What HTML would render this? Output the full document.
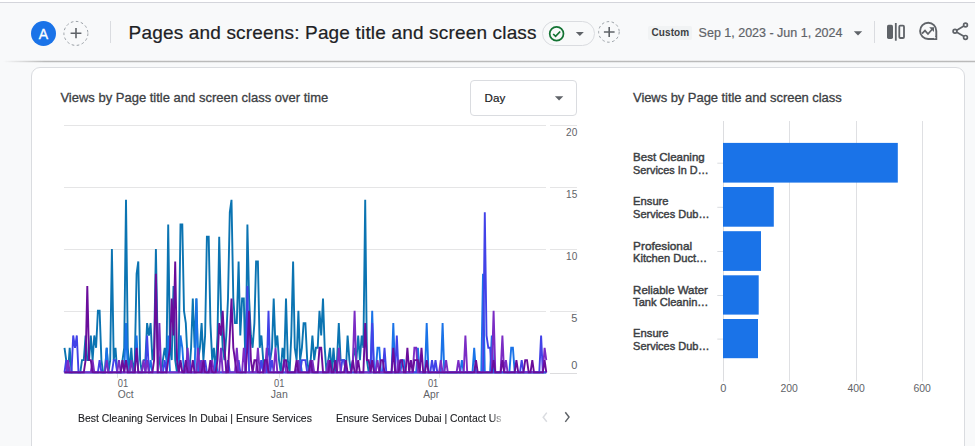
<!DOCTYPE html>
<html lang="en"><head><meta charset="utf-8"><title>Pages and screens: Page title and screen class</title>
<style>
*{box-sizing:border-box;margin:0;padding:0}
html,body{width:975px;height:446px;overflow:hidden}
body{position:relative;background:#f8f9fa;font-family:"Liberation Sans",sans-serif;color:#202124}
.topwhite{position:absolute;left:0;top:0;width:975px;height:2px;background:#fff}
.topline{position:absolute;left:0;top:2px;width:975px;height:1px;background:#d4d5db}
.hdrline{position:absolute;left:0;top:60px;width:975px;height:3px;background:linear-gradient(180deg,rgba(130,130,130,.13) 0,rgba(130,130,130,.13) 33%,rgb(186,186,186) 33%,rgb(186,186,186) 67%,rgba(130,130,130,.12) 67%,rgba(130,130,130,.12) 100%);-webkit-mask-image:linear-gradient(90deg,rgba(0,0,0,0) 3px,#000 45px)}
.hdrline2{display:none}
.avatar{position:absolute;left:31px;top:21px;width:25px;height:25px;border-radius:50%;background:#1a73e8;color:#fff;font-size:14px;line-height:26.6px;text-align:center;-webkit-text-stroke:.35px #fff}
.abs{position:absolute}
.vdiv{position:absolute;width:1px;background:#dadce0}
.title{position:absolute;left:128.6px;top:18.2px;font-size:19px;line-height:30px;letter-spacing:.17px;white-space:nowrap;color:#202124;-webkit-text-stroke:.2px #202124}
.pill{position:absolute;left:541.5px;top:21px;width:53px;height:24.6px;border:1px solid #dadce0;border-radius:12.5px;}
.badge{position:absolute;left:648.3px;top:26.3px;width:44.2px;height:13.4px;background:#f1f3f4;border-radius:2px;font-size:10px;font-weight:700;line-height:13.4px;text-align:center;color:#3c4043;letter-spacing:.1px}
.date{position:absolute;left:698.6px;top:23px;font-size:12.5px;line-height:20px;white-space:nowrap;color:#5f6368;-webkit-text-stroke:.2px #5f6368}
.card{position:absolute;left:31px;top:67px;width:934px;height:400px;background:#fff;border:1px solid #dadce0;border-radius:9px}
.ctitle{position:absolute;font-size:13px;line-height:20px;white-space:nowrap;color:#3c4043;-webkit-text-stroke:.3px #3c4043}
.daybox{position:absolute;left:470.4px;top:80.3px;width:106.6px;height:35.6px;border:1px solid #dadce0;border-radius:4px;background:#fff}
.day{position:absolute;left:484.6px;top:88px;font-size:11.6px;line-height:20px;color:#202124;-webkit-text-stroke:.2px #202124}
.legend{position:absolute;top:408px;font-size:11.6px;line-height:20px;white-space:nowrap;color:#202124;transform-origin:0 50%;-webkit-text-stroke:.12px #202124}
svg{position:absolute;left:0;top:0;overflow:visible}
svg text{font-family:"Liberation Sans",sans-serif}
.ax{font-size:11px;fill:#5f6368}
.bl{font-size:11.8px;fill:#3c4043;stroke:#3c4043;stroke-width:.45px}
</style></head>
<body>
<div class="topwhite"></div><div class="topline"></div>
<header>
<div class="avatar">A</div>
<div class="title">Pages and screens: Page title and screen class</div>
<div class="vdiv" style="left:110px;top:21px;height:22px"></div>
<div class="pill"></div>
<div class="badge">Custom</div>
<div class="date">Sep 1, 2023 - Jun 1, 2024</div>
<div class="vdiv" style="left:874px;top:21px;height:22px"></div>
</header>
<div class="hdrline"></div><div class="hdrline2"></div>
<main class="card"></main>
<div class="ctitle" style="left:60.4px;top:88.2px">Views by Page title and screen class over time</div>
<div class="ctitle" style="left:633px;top:88.2px;letter-spacing:-.06px">Views by Page title and screen class</div>
<div class="daybox"></div><div class="day">Day</div>
<div class="legend" id="lg1" style="left:78.2px;transform:scaleX(.899)">Best Cleaning Services In Dubai | Ensure Services</div>
<div class="legend" id="lg2" style="left:335.6px;transform:scaleX(.895);-webkit-mask-image:linear-gradient(90deg,#000 0,#000 93%,rgba(0,0,0,.3) 100%)">Ensure Services Dubai | Contact Us</div>
<svg width="975" height="446" viewBox="0 0 975 446">
<!-- header icons -->
<g id="plus1" fill="none">
 <circle cx="75.9" cy="33.4" r="12" stroke="#9aa0a6" stroke-width="1" stroke-dasharray="2.6 2.5"/>
 <path d="M70.6 33.2h10.8M76 27.9v10.4" stroke="#5f6368" stroke-width="1.6"/>
</g>
<g id="status">
 <circle cx="556.6" cy="33.7" r="6.9" fill="none" stroke="#137333" stroke-width="1.7"/>
 <path d="M553.2 34l2.4 2.4 4.6-4.9" fill="none" stroke="#137333" stroke-width="1.7"/>
 <path d="M575.8 31.9h8l-4 4z" fill="#5f6368"/>
</g>
<g id="plus2" fill="none">
 <circle cx="608.9" cy="31.9" r="10.3" stroke="#9aa0a6" stroke-width="1" stroke-dasharray="2.6 2.5"/>
 <path d="M603.9 32h10.7M609.2 26.9v10.2" stroke="#5f6368" stroke-width="1.6"/>
</g>
<path d="M853.8 31.2h8.4l-4.2 4.2z" fill="#5f6368"/>
<g id="compare">
 <rect x="887" y="24.8" width="6" height="14.1" rx="1.6" fill="#5f6368"/>
 <rect x="894.9" y="23" width="1.8" height="17.7" fill="#5f6368"/>
 <rect x="899.3" y="25.7" width="4.7" height="12.3" rx="1" fill="none" stroke="#5f6368" stroke-width="1.8"/>
</g>
<g id="insights" fill="none" stroke="#5f6368">
 <path d="M936.3 30.9a8.1 8.1 0 1 0-8.1 8.1h8.1z" stroke-width="1.9"/>
 <path d="M922 33.6l3-3 3 3.4 4.6-5.2" stroke-width="1.7"/>
 <path d="M929.2 27.2h4.8v4.8z" fill="#5f6368" stroke="none"/>
 <path d="M936.6 34.6v4.7h-4.7a8.4 8.4 0 0 0 4.7-4.7z" fill="#5f6368" stroke="none"/>
 <circle cx="934.8" cy="37.6" r=".85" fill="#fff" stroke="none"/>
</g>
<g id="share" fill="none" stroke="#5f6368" stroke-width="1.7">
 <circle cx="965.5" cy="25" r="1.9"/><circle cx="955" cy="31.2" r="1.9"/><circle cx="965.5" cy="37.4" r="1.9"/>
 <path d="M956.8 30.2l7-4.1M956.8 32.2l7 4.1"/>
</g>
<path d="M554.9 96.3h8.4l-4.2 4.1z" fill="#5f6368"/>
<!-- line chart -->
<g id="linechart">
<line x1="64" x2="546" y1="125.5" y2="125.5" stroke="#e5e5e6" stroke-width="1"/><line x1="550" x2="577" y1="125.5" y2="125.5" stroke="#e5e5e6" stroke-width="1"/><line x1="64" x2="546" y1="187.5" y2="187.5" stroke="#e5e5e6" stroke-width="1"/><line x1="550" x2="577" y1="187.5" y2="187.5" stroke="#e5e5e6" stroke-width="1"/><line x1="64" x2="546" y1="249.5" y2="249.5" stroke="#e5e5e6" stroke-width="1"/><line x1="550" x2="577" y1="249.5" y2="249.5" stroke="#e5e5e6" stroke-width="1"/><line x1="64" x2="546" y1="311.5" y2="311.5" stroke="#e5e5e6" stroke-width="1"/><line x1="550" x2="577" y1="311.5" y2="311.5" stroke="#e5e5e6" stroke-width="1"/><line x1="64" x2="546" y1="373.5" y2="373.5" stroke="#dcdcde" stroke-width="1"/><line x1="550" x2="577" y1="373.5" y2="373.5" stroke="#dcdcde" stroke-width="1"/>
<text x="577.3" y="136.0" text-anchor="end" class="ax" textLength="11.2" lengthAdjust="spacingAndGlyphs">20</text><text x="577.3" y="198.0" text-anchor="end" class="ax" textLength="11.2" lengthAdjust="spacingAndGlyphs">15</text><text x="577.3" y="260.0" text-anchor="end" class="ax" textLength="11.2" lengthAdjust="spacingAndGlyphs">10</text><text x="577.3" y="322.0" text-anchor="end" class="ax">5</text><text x="577.3" y="369.0" text-anchor="end" class="ax">0</text>
<line x1="117.5" x2="117.5" y1="374" y2="377.8" stroke="#e0e0e2" stroke-width="1"/><text x="117.8" y="386.9" text-anchor="start" class="ax" textLength="10.4" lengthAdjust="spacingAndGlyphs">01</text><text x="117.8" y="398.0" text-anchor="start" class="ax" textLength="15.9" lengthAdjust="spacingAndGlyphs">Oct</text><line x1="279.5" x2="279.5" y1="374" y2="377.8" stroke="#e0e0e2" stroke-width="1"/><text x="279.3" y="386.9" text-anchor="middle" class="ax" textLength="10.4" lengthAdjust="spacingAndGlyphs">01</text><text x="279.3" y="398.0" text-anchor="middle" class="ax" textLength="16.9" lengthAdjust="spacingAndGlyphs">Jan</text><line x1="439.5" x2="439.5" y1="374" y2="377.8" stroke="#e0e0e2" stroke-width="1"/><text x="438.3" y="386.9" text-anchor="end" class="ax" textLength="10.4" lengthAdjust="spacingAndGlyphs">01</text><text x="439.1" y="398.0" text-anchor="end" class="ax" textLength="15.9" lengthAdjust="spacingAndGlyphs">Apr</text>
<path d="M64.5,347.8 L66.2,360.1 L68.0,372.4 L69.7,347.8 L71.5,372.4 L73.2,372.4 L75.0,372.4 L76.8,372.4 L78.5,372.4 L80.3,372.4 L82.0,360.1 L83.8,360.1 L85.6,335.5 L87.3,360.1 L89.1,360.1 L90.8,335.5 L92.6,360.1 L94.3,335.5 L96.1,347.8 L97.9,310.8 L99.6,310.8 L101.4,360.1 L103.1,372.4 L104.9,372.4 L106.7,347.8 L108.4,372.4 L110.2,360.1 L111.9,249.1 L113.7,360.1 L115.5,347.8 L117.2,372.4 L119.0,372.4 L120.7,372.4 L122.5,360.1 L124.2,347.8 L126.0,199.8 L127.8,347.8 L129.5,372.4 L131.3,347.8 L133.0,372.4 L134.8,360.1 L136.6,273.8 L138.3,261.5 L140.1,360.1 L141.8,372.4 L143.6,360.1 L145.4,360.1 L147.1,323.1 L148.9,335.5 L150.6,323.1 L152.4,360.1 L154.1,347.8 L155.9,249.1 L157.7,347.8 L159.4,360.1 L161.2,372.4 L162.9,360.1 L164.7,347.8 L166.5,360.1 L168.2,224.5 L170.0,347.8 L171.7,360.1 L173.5,286.1 L175.2,360.1 L177.0,372.4 L178.8,347.8 L180.5,224.5 L182.3,224.5 L184.0,310.8 L185.8,323.1 L187.6,360.1 L189.3,372.4 L191.1,347.8 L192.8,298.5 L194.6,347.8 L196.4,298.5 L198.1,360.1 L199.9,347.8 L201.6,323.1 L203.4,360.1 L205.1,335.5 L206.9,236.8 L208.7,236.8 L210.4,323.1 L212.2,360.1 L213.9,347.8 L215.7,372.4 L217.5,335.5 L219.2,236.8 L221.0,310.8 L222.7,347.8 L224.5,360.1 L226.3,335.5 L228.0,298.5 L229.8,212.2 L231.5,199.8 L233.3,298.5 L235.0,323.1 L236.8,323.1 L238.6,261.5 L240.3,335.5 L242.1,298.5 L243.8,298.5 L245.6,372.4 L247.4,224.5 L249.1,298.5 L250.9,335.5 L252.6,347.8 L254.4,323.1 L256.1,261.5 L257.9,261.5 L259.7,347.8 L261.4,335.5 L263.2,360.1 L264.9,372.4 L266.7,360.1 L268.5,347.8 L270.2,360.1 L272.0,347.8 L273.7,298.5 L275.5,347.8 L277.3,335.5 L279.0,360.1 L280.8,372.4 L282.5,347.8 L284.3,360.1 L286.0,298.5 L287.8,360.1 L289.6,372.4 L291.3,335.5 L293.1,261.5 L294.8,347.8 L296.6,360.1 L298.4,310.8 L300.1,360.1 L301.9,347.8 L303.6,323.1 L305.4,323.1 L307.2,360.1 L308.9,372.4 L310.7,360.1 L312.4,335.5 L314.2,360.1 L315.9,347.8 L317.7,347.8 L319.5,310.8 L321.2,335.5 L323.0,298.5 L324.7,347.8 L326.5,372.4 L328.3,360.1 L330.0,347.8 L331.8,372.4 L333.5,347.8 L335.3,372.4 L337.0,360.1 L338.8,323.1 L340.6,360.1 L342.3,360.1 L344.1,360.1 L345.8,372.4 L347.6,335.5 L349.4,360.1 L351.1,372.4 L352.9,360.1 L354.6,347.8 L356.4,360.1 L358.2,335.5 L359.9,360.1 L361.7,335.5 L363.4,347.8 L365.2,199.8 L366.9,360.1 L368.7,372.4 L370.5,372.4 L372.2,372.4 L374.0,372.4 L375.7,372.4 L377.5,372.4 L379.3,372.4 L381.0,372.4 L382.8,372.4 L384.5,372.4 L386.3,372.4 L388.1,372.4 L389.8,372.4 L391.6,372.4 L393.3,372.4 L395.1,372.4 L396.8,372.4 L398.6,372.4 L400.4,372.4 L402.1,372.4 L403.9,372.4 L405.6,372.4 L407.4,372.4 L409.2,372.4 L410.9,372.4 L412.7,372.4 L414.4,372.4 L416.2,372.4 L417.9,372.4 L419.7,372.4 L421.5,372.4 L423.2,372.4 L425.0,372.4 L426.7,372.4 L428.5,372.4 L430.3,372.4 L432.0,372.4 L433.8,372.4 L435.5,372.4 L437.3,372.4 L439.1,372.4 L440.8,372.4 L442.6,372.4 L444.3,372.4 L446.1,372.4 L447.8,372.4 L449.6,372.4 L451.4,372.4 L453.1,372.4 L454.9,372.4 L456.6,372.4 L458.4,372.4 L460.2,372.4 L461.9,372.4 L463.7,372.4 L465.4,372.4 L467.2,372.4 L469.0,372.4 L470.7,372.4 L472.5,372.4 L474.2,372.4 L476.0,372.4 L477.7,372.4 L479.5,372.4 L481.3,372.4 L483.0,372.4 L484.8,372.4 L486.5,372.4 L488.3,372.4 L490.1,372.4 L491.8,372.4 L493.6,372.4 L495.3,372.4 L497.1,372.4 L498.8,372.4 L500.6,372.4 L502.4,372.4 L504.1,372.4 L505.9,372.4 L507.6,372.4 L509.4,372.4 L511.2,372.4 L512.9,372.4 L514.7,372.4 L516.4,372.4 L518.2,372.4 L520.0,372.4 L521.7,372.4 L523.5,372.4 L525.2,372.4 L527.0,372.4 L528.7,372.4 L530.5,372.4 L532.3,372.4 L534.0,372.4 L535.8,372.4 L537.5,372.4 L539.3,372.4 L541.1,372.4 L542.8,372.4 L544.6,372.4 L546.3,372.4" fill="none" stroke="#0b74b2" stroke-width="1.9"/>
<path d="M64.5,372.4 L66.2,372.4 L68.0,372.4 L69.7,372.4 L71.5,372.4 L73.2,372.4 L75.0,372.4 L76.8,372.4 L78.5,372.4 L80.3,372.4 L82.0,372.4 L83.8,372.4 L85.6,372.4 L87.3,372.4 L89.1,372.4 L90.8,372.4 L92.6,372.4 L94.3,372.4 L96.1,372.4 L97.9,372.4 L99.6,372.4 L101.4,372.4 L103.1,372.4 L104.9,372.4 L106.7,347.8 L108.4,372.4 L110.2,372.4 L111.9,372.4 L113.7,372.4 L115.5,372.4 L117.2,372.4 L119.0,372.4 L120.7,372.4 L122.5,372.4 L124.2,372.4 L126.0,323.1 L127.8,372.4 L129.5,372.4 L131.3,372.4 L133.0,372.4 L134.8,372.4 L136.6,335.5 L138.3,372.4 L140.1,372.4 L141.8,372.4 L143.6,372.4 L145.4,372.4 L147.1,372.4 L148.9,372.4 L150.6,360.1 L152.4,372.4 L154.1,372.4 L155.9,372.4 L157.7,372.4 L159.4,372.4 L161.2,372.4 L162.9,372.4 L164.7,372.4 L166.5,372.4 L168.2,335.5 L170.0,372.4 L171.7,372.4 L173.5,372.4 L175.2,372.4 L177.0,372.4 L178.8,372.4 L180.5,335.5 L182.3,347.8 L184.0,372.4 L185.8,372.4 L187.6,372.4 L189.3,372.4 L191.1,372.4 L192.8,372.4 L194.6,372.4 L196.4,298.5 L198.1,372.4 L199.9,360.1 L201.6,372.4 L203.4,372.4 L205.1,372.4 L206.9,372.4 L208.7,372.4 L210.4,372.4 L212.2,372.4 L213.9,372.4 L215.7,360.1 L217.5,372.4 L219.2,372.4 L221.0,372.4 L222.7,372.4 L224.5,372.4 L226.3,372.4 L228.0,372.4 L229.8,372.4 L231.5,372.4 L233.3,372.4 L235.0,372.4 L236.8,372.4 L238.6,372.4 L240.3,372.4 L242.1,372.4 L243.8,372.4 L245.6,372.4 L247.4,372.4 L249.1,372.4 L250.9,372.4 L252.6,372.4 L254.4,372.4 L256.1,372.4 L257.9,372.4 L259.7,372.4 L261.4,360.1 L263.2,372.4 L264.9,372.4 L266.7,372.4 L268.5,372.4 L270.2,372.4 L272.0,372.4 L273.7,372.4 L275.5,372.4 L277.3,372.4 L279.0,372.4 L280.8,372.4 L282.5,372.4 L284.3,372.4 L286.0,372.4 L287.8,372.4 L289.6,372.4 L291.3,372.4 L293.1,372.4 L294.8,372.4 L296.6,372.4 L298.4,372.4 L300.1,360.1 L301.9,372.4 L303.6,372.4 L305.4,372.4 L307.2,372.4 L308.9,372.4 L310.7,360.1 L312.4,372.4 L314.2,372.4 L315.9,372.4 L317.7,372.4 L319.5,372.4 L321.2,372.4 L323.0,372.4 L324.7,372.4 L326.5,372.4 L328.3,372.4 L330.0,372.4 L331.8,372.4 L333.5,372.4 L335.3,372.4 L337.0,372.4 L338.8,372.4 L340.6,372.4 L342.3,372.4 L344.1,372.4 L345.8,372.4 L347.6,372.4 L349.4,372.4 L351.1,372.4 L352.9,372.4 L354.6,372.4 L356.4,372.4 L358.2,372.4 L359.9,372.4 L361.7,372.4 L363.4,372.4 L365.2,372.4 L366.9,372.4 L368.7,372.4 L370.5,372.4 L372.2,310.8 L374.0,372.4 L375.7,372.4 L377.5,347.8 L379.3,347.8 L381.0,372.4 L382.8,372.4 L384.5,372.4 L386.3,372.4 L388.1,372.4 L389.8,372.4 L391.6,372.4 L393.3,323.1 L395.1,372.4 L396.8,372.4 L398.6,372.4 L400.4,372.4 L402.1,360.1 L403.9,360.1 L405.6,372.4 L407.4,372.4 L409.2,372.4 L410.9,372.4 L412.7,372.4 L414.4,372.4 L416.2,372.4 L417.9,347.8 L419.7,372.4 L421.5,372.4 L423.2,372.4 L425.0,372.4 L426.7,323.1 L428.5,372.4 L430.3,372.4 L432.0,372.4 L433.8,372.4 L435.5,372.4 L437.3,372.4 L439.1,372.4 L440.8,372.4 L442.6,323.1 L444.3,372.4 L446.1,372.4 L447.8,372.4 L449.6,372.4 L451.4,372.4 L453.1,372.4 L454.9,372.4 L456.6,372.4 L458.4,372.4 L460.2,372.4 L461.9,360.1 L463.7,372.4 L465.4,372.4 L467.2,372.4 L469.0,372.4 L470.7,372.4 L472.5,372.4 L474.2,347.8 L476.0,372.4 L477.7,372.4 L479.5,372.4 L481.3,372.4 L483.0,273.8 L484.8,372.4 L486.5,372.4 L488.3,372.4 L490.1,372.4 L491.8,335.5 L493.6,372.4 L495.3,372.4 L497.1,372.4 L498.8,372.4 L500.6,372.4 L502.4,372.4 L504.1,372.4 L505.9,372.4 L507.6,372.4 L509.4,372.4 L511.2,347.8 L512.9,347.8 L514.7,372.4 L516.4,372.4 L518.2,372.4 L520.0,372.4 L521.7,372.4 L523.5,372.4 L525.2,372.4 L527.0,372.4 L528.7,372.4 L530.5,372.4 L532.3,372.4 L534.0,372.4 L535.8,372.4 L537.5,372.4 L539.3,372.4 L541.1,372.4 L542.8,372.4 L544.6,372.4 L546.3,372.4" fill="none" stroke="#1a73e8" stroke-width="1.9"/>
<path d="M64.5,372.4 L66.2,360.1 L68.0,372.4 L69.7,372.4 L71.5,372.4 L73.2,335.5 L75.0,347.8 L76.8,335.5 L78.5,372.4 L80.3,372.4 L82.0,372.4 L83.8,372.4 L85.6,372.4 L87.3,372.4 L89.1,372.4 L90.8,372.4 L92.6,372.4 L94.3,372.4 L96.1,372.4 L97.9,372.4 L99.6,360.1 L101.4,372.4 L103.1,372.4 L104.9,372.4 L106.7,372.4 L108.4,372.4 L110.2,372.4 L111.9,372.4 L113.7,360.1 L115.5,360.1 L117.2,372.4 L119.0,372.4 L120.7,372.4 L122.5,372.4 L124.2,372.4 L126.0,372.4 L127.8,372.4 L129.5,372.4 L131.3,372.4 L133.0,372.4 L134.8,372.4 L136.6,372.4 L138.3,372.4 L140.1,372.4 L141.8,372.4 L143.6,372.4 L145.4,372.4 L147.1,335.5 L148.9,372.4 L150.6,372.4 L152.4,372.4 L154.1,372.4 L155.9,372.4 L157.7,372.4 L159.4,372.4 L161.2,372.4 L162.9,372.4 L164.7,360.1 L166.5,372.4 L168.2,372.4 L170.0,372.4 L171.7,372.4 L173.5,372.4 L175.2,372.4 L177.0,372.4 L178.8,372.4 L180.5,372.4 L182.3,372.4 L184.0,372.4 L185.8,372.4 L187.6,372.4 L189.3,360.1 L191.1,372.4 L192.8,372.4 L194.6,372.4 L196.4,372.4 L198.1,372.4 L199.9,372.4 L201.6,372.4 L203.4,372.4 L205.1,360.1 L206.9,372.4 L208.7,372.4 L210.4,372.4 L212.2,372.4 L213.9,372.4 L215.7,372.4 L217.5,372.4 L219.2,372.4 L221.0,372.4 L222.7,372.4 L224.5,372.4 L226.3,372.4 L228.0,360.1 L229.8,372.4 L231.5,372.4 L233.3,372.4 L235.0,372.4 L236.8,372.4 L238.6,360.1 L240.3,372.4 L242.1,372.4 L243.8,372.4 L245.6,372.4 L247.4,286.1 L249.1,372.4 L250.9,372.4 L252.6,372.4 L254.4,372.4 L256.1,372.4 L257.9,372.4 L259.7,372.4 L261.4,360.1 L263.2,372.4 L264.9,372.4 L266.7,372.4 L268.5,310.8 L270.2,372.4 L272.0,360.1 L273.7,372.4 L275.5,372.4 L277.3,372.4 L279.0,372.4 L280.8,372.4 L282.5,372.4 L284.3,372.4 L286.0,372.4 L287.8,372.4 L289.6,372.4 L291.3,372.4 L293.1,372.4 L294.8,372.4 L296.6,372.4 L298.4,372.4 L300.1,372.4 L301.9,360.1 L303.6,360.1 L305.4,360.1 L307.2,372.4 L308.9,372.4 L310.7,372.4 L312.4,372.4 L314.2,372.4 L315.9,372.4 L317.7,372.4 L319.5,372.4 L321.2,372.4 L323.0,372.4 L324.7,372.4 L326.5,372.4 L328.3,372.4 L330.0,372.4 L331.8,372.4 L333.5,372.4 L335.3,372.4 L337.0,372.4 L338.8,372.4 L340.6,372.4 L342.3,360.1 L344.1,360.1 L345.8,372.4 L347.6,372.4 L349.4,372.4 L351.1,372.4 L352.9,372.4 L354.6,372.4 L356.4,372.4 L358.2,372.4 L359.9,372.4 L361.7,372.4 L363.4,372.4 L365.2,372.4 L366.9,372.4 L368.7,372.4 L370.5,372.4 L372.2,323.1 L374.0,372.4 L375.7,372.4 L377.5,372.4 L379.3,372.4 L381.0,372.4 L382.8,372.4 L384.5,347.8 L386.3,372.4 L388.1,372.4 L389.8,372.4 L391.6,372.4 L393.3,372.4 L395.1,372.4 L396.8,335.5 L398.6,372.4 L400.4,372.4 L402.1,372.4 L403.9,372.4 L405.6,372.4 L407.4,372.4 L409.2,372.4 L410.9,372.4 L412.7,372.4 L414.4,372.4 L416.2,372.4 L417.9,372.4 L419.7,372.4 L421.5,372.4 L423.2,372.4 L425.0,372.4 L426.7,372.4 L428.5,372.4 L430.3,372.4 L432.0,360.1 L433.8,372.4 L435.5,360.1 L437.3,372.4 L439.1,372.4 L440.8,372.4 L442.6,372.4 L444.3,372.4 L446.1,372.4 L447.8,372.4 L449.6,372.4 L451.4,372.4 L453.1,372.4 L454.9,372.4 L456.6,372.4 L458.4,372.4 L460.2,372.4 L461.9,372.4 L463.7,372.4 L465.4,372.4 L467.2,372.4 L469.0,372.4 L470.7,372.4 L472.5,372.4 L474.2,372.4 L476.0,372.4 L477.7,372.4 L479.5,372.4 L481.3,372.4 L483.0,372.4 L484.8,212.2 L486.5,335.5 L488.3,347.8 L490.1,347.8 L491.8,372.4 L493.6,372.4 L495.3,372.4 L497.1,372.4 L498.8,372.4 L500.6,372.4 L502.4,372.4 L504.1,372.4 L505.9,372.4 L507.6,372.4 L509.4,372.4 L511.2,372.4 L512.9,372.4 L514.7,372.4 L516.4,372.4 L518.2,372.4 L520.0,372.4 L521.7,360.1 L523.5,372.4 L525.2,372.4 L527.0,372.4 L528.7,372.4 L530.5,372.4 L532.3,372.4 L534.0,372.4 L535.8,372.4 L537.5,372.4 L539.3,372.4 L541.1,335.5 L542.8,372.4 L544.6,372.4 L546.3,372.4" fill="none" stroke="#4242e8" stroke-width="1.9"/>
<path d="M64.5,372.4 L66.2,372.4 L68.0,360.1 L69.7,372.4 L71.5,372.4 L73.2,372.4 L75.0,372.4 L76.8,372.4 L78.5,372.4 L80.3,372.4 L82.0,372.4 L83.8,372.4 L85.6,372.4 L87.3,372.4 L89.1,372.4 L90.8,372.4 L92.6,360.1 L94.3,372.4 L96.1,372.4 L97.9,372.4 L99.6,372.4 L101.4,372.4 L103.1,372.4 L104.9,372.4 L106.7,360.1 L108.4,372.4 L110.2,372.4 L111.9,372.4 L113.7,372.4 L115.5,372.4 L117.2,372.4 L119.0,360.1 L120.7,372.4 L122.5,372.4 L124.2,372.4 L126.0,372.4 L127.8,372.4 L129.5,372.4 L131.3,360.1 L133.0,372.4 L134.8,372.4 L136.6,372.4 L138.3,372.4 L140.1,372.4 L141.8,372.4 L143.6,360.1 L145.4,372.4 L147.1,360.1 L148.9,372.4 L150.6,372.4 L152.4,372.4 L154.1,372.4 L155.9,372.4 L157.7,372.4 L159.4,323.1 L161.2,372.4 L162.9,372.4 L164.7,372.4 L166.5,372.4 L168.2,372.4 L170.0,372.4 L171.7,372.4 L173.5,372.4 L175.2,372.4 L177.0,372.4 L178.8,372.4 L180.5,372.4 L182.3,372.4 L184.0,372.4 L185.8,372.4 L187.6,347.8 L189.3,372.4 L191.1,372.4 L192.8,372.4 L194.6,372.4 L196.4,372.4 L198.1,347.8 L199.9,372.4 L201.6,360.1 L203.4,372.4 L205.1,372.4 L206.9,372.4 L208.7,372.4 L210.4,372.4 L212.2,360.1 L213.9,372.4 L215.7,372.4 L217.5,372.4 L219.2,372.4 L221.0,347.8 L222.7,372.4 L224.5,372.4 L226.3,372.4 L228.0,372.4 L229.8,372.4 L231.5,372.4 L233.3,372.4 L235.0,372.4 L236.8,347.8 L238.6,372.4 L240.3,372.4 L242.1,372.4 L243.8,347.8 L245.6,372.4 L247.4,372.4 L249.1,372.4 L250.9,372.4 L252.6,372.4 L254.4,372.4 L256.1,372.4 L257.9,347.8 L259.7,372.4 L261.4,372.4 L263.2,372.4 L264.9,372.4 L266.7,347.8 L268.5,372.4 L270.2,372.4 L272.0,372.4 L273.7,372.4 L275.5,347.8 L277.3,372.4 L279.0,372.4 L280.8,372.4 L282.5,372.4 L284.3,360.1 L286.0,372.4 L287.8,372.4 L289.6,372.4 L291.3,372.4 L293.1,372.4 L294.8,372.4 L296.6,372.4 L298.4,360.1 L300.1,372.4 L301.9,372.4 L303.6,372.4 L305.4,372.4 L307.2,372.4 L308.9,372.4 L310.7,372.4 L312.4,360.1 L314.2,372.4 L315.9,372.4 L317.7,372.4 L319.5,372.4 L321.2,372.4 L323.0,372.4 L324.7,372.4 L326.5,372.4 L328.3,360.1 L330.0,372.4 L331.8,372.4 L333.5,372.4 L335.3,372.4 L337.0,372.4 L338.8,347.8 L340.6,372.4 L342.3,372.4 L344.1,372.4 L345.8,372.4 L347.6,372.4 L349.4,372.4 L351.1,372.4 L352.9,360.1 L354.6,310.8 L356.4,372.4 L358.2,372.4 L359.9,372.4 L361.7,372.4 L363.4,372.4 L365.2,372.4 L366.9,372.4 L368.7,372.4 L370.5,372.4 L372.2,372.4 L374.0,372.4 L375.7,372.4 L377.5,360.1 L379.3,372.4 L381.0,372.4 L382.8,372.4 L384.5,372.4 L386.3,372.4 L388.1,372.4 L389.8,372.4 L391.6,372.4 L393.3,372.4 L395.1,372.4 L396.8,372.4 L398.6,360.1 L400.4,372.4 L402.1,372.4 L403.9,372.4 L405.6,372.4 L407.4,372.4 L409.2,372.4 L410.9,372.4 L412.7,372.4 L414.4,347.8 L416.2,347.8 L417.9,372.4 L419.7,372.4 L421.5,372.4 L423.2,372.4 L425.0,372.4 L426.7,372.4 L428.5,372.4 L430.3,372.4 L432.0,372.4 L433.8,372.4 L435.5,372.4 L437.3,372.4 L439.1,372.4 L440.8,360.1 L442.6,372.4 L444.3,372.4 L446.1,360.1 L447.8,372.4 L449.6,372.4 L451.4,372.4 L453.1,372.4 L454.9,372.4 L456.6,372.4 L458.4,360.1 L460.2,372.4 L461.9,372.4 L463.7,372.4 L465.4,335.5 L467.2,372.4 L469.0,372.4 L470.7,372.4 L472.5,372.4 L474.2,372.4 L476.0,372.4 L477.7,372.4 L479.5,372.4 L481.3,372.4 L483.0,372.4 L484.8,372.4 L486.5,372.4 L488.3,372.4 L490.1,372.4 L491.8,372.4 L493.6,310.8 L495.3,372.4 L497.1,372.4 L498.8,372.4 L500.6,372.4 L502.4,335.5 L504.1,372.4 L505.9,360.1 L507.6,372.4 L509.4,372.4 L511.2,372.4 L512.9,372.4 L514.7,372.4 L516.4,372.4 L518.2,372.4 L520.0,372.4 L521.7,372.4 L523.5,372.4 L525.2,372.4 L527.0,372.4 L528.7,372.4 L530.5,372.4 L532.3,372.4 L534.0,372.4 L535.8,372.4 L537.5,372.4 L539.3,372.4 L541.1,372.4 L542.8,372.4 L544.6,347.8 L546.3,360.1" fill="none" stroke="#7b2cc4" stroke-width="1.9"/>
<path d="M64.5,372.4 L66.2,372.4 L68.0,372.4 L69.7,372.4 L71.5,372.4 L73.2,372.4 L75.0,372.4 L76.8,372.4 L78.5,372.4 L80.3,372.4 L82.0,372.4 L83.8,372.4 L85.6,360.1 L87.3,286.1 L89.1,360.1 L90.8,360.1 L92.6,372.4 L94.3,372.4 L96.1,372.4 L97.9,372.4 L99.6,372.4 L101.4,372.4 L103.1,372.4 L104.9,372.4 L106.7,372.4 L108.4,372.4 L110.2,372.4 L111.9,372.4 L113.7,372.4 L115.5,372.4 L117.2,372.4 L119.0,372.4 L120.7,372.4 L122.5,360.1 L124.2,372.4 L126.0,360.1 L127.8,372.4 L129.5,372.4 L131.3,372.4 L133.0,372.4 L134.8,372.4 L136.6,347.8 L138.3,372.4 L140.1,372.4 L141.8,372.4 L143.6,372.4 L145.4,372.4 L147.1,372.4 L148.9,372.4 L150.6,372.4 L152.4,372.4 L154.1,360.1 L155.9,273.8 L157.7,372.4 L159.4,372.4 L161.2,372.4 L162.9,372.4 L164.7,372.4 L166.5,372.4 L168.2,360.1 L170.0,347.8 L171.7,298.5 L173.5,335.5 L175.2,261.5 L177.0,360.1 L178.8,372.4 L180.5,360.1 L182.3,372.4 L184.0,372.4 L185.8,360.1 L187.6,372.4 L189.3,372.4 L191.1,372.4 L192.8,360.1 L194.6,372.4 L196.4,372.4 L198.1,372.4 L199.9,372.4 L201.6,372.4 L203.4,360.1 L205.1,372.4 L206.9,372.4 L208.7,372.4 L210.4,360.1 L212.2,372.4 L213.9,372.4 L215.7,372.4 L217.5,360.1 L219.2,323.1 L221.0,335.5 L222.7,310.8 L224.5,347.8 L226.3,372.4 L228.0,372.4 L229.8,335.5 L231.5,298.5 L233.3,347.8 L235.0,360.1 L236.8,372.4 L238.6,372.4 L240.3,372.4 L242.1,372.4 L243.8,372.4 L245.6,372.4 L247.4,347.8 L249.1,310.8 L250.9,360.1 L252.6,372.4 L254.4,360.1 L256.1,360.1 L257.9,372.4 L259.7,372.4 L261.4,372.4 L263.2,372.4 L264.9,360.1 L266.7,360.1 L268.5,372.4 L270.2,372.4 L272.0,372.4 L273.7,372.4 L275.5,372.4 L277.3,372.4 L279.0,372.4 L280.8,372.4 L282.5,372.4 L284.3,360.1 L286.0,360.1 L287.8,372.4 L289.6,372.4 L291.3,372.4 L293.1,372.4 L294.8,372.4 L296.6,360.1 L298.4,372.4 L300.1,372.4 L301.9,372.4 L303.6,372.4 L305.4,372.4 L307.2,372.4 L308.9,372.4 L310.7,360.1 L312.4,372.4 L314.2,372.4 L315.9,372.4 L317.7,372.4 L319.5,347.8 L321.2,347.8 L323.0,372.4 L324.7,372.4 L326.5,372.4 L328.3,372.4 L330.0,360.1 L331.8,372.4 L333.5,372.4 L335.3,360.1 L337.0,372.4 L338.8,372.4 L340.6,372.4 L342.3,372.4 L344.1,372.4 L345.8,360.1 L347.6,372.4 L349.4,372.4 L351.1,372.4 L352.9,360.1 L354.6,372.4 L356.4,372.4 L358.2,360.1 L359.9,372.4 L361.7,372.4 L363.4,372.4 L365.2,323.1 L366.9,360.1 L368.7,360.1 L370.5,372.4 L372.2,360.1 L374.0,372.4 L375.7,372.4 L377.5,372.4 L379.3,372.4 L381.0,360.1 L382.8,360.1 L384.5,372.4 L386.3,372.4 L388.1,372.4 L389.8,372.4 L391.6,372.4 L393.3,347.8 L395.1,372.4 L396.8,372.4 L398.6,372.4 L400.4,360.1 L402.1,360.1 L403.9,372.4 L405.6,372.4 L407.4,347.8 L409.2,372.4 L410.9,360.1 L412.7,372.4 L414.4,360.1 L416.2,360.1 L417.9,360.1 L419.7,372.4 L421.5,347.8 L423.2,372.4 L425.0,372.4 L426.7,360.1 L428.5,372.4 L430.3,372.4 L432.0,372.4 L433.8,372.4 L435.5,372.4 L437.3,372.4 L439.1,372.4 L440.8,372.4 L442.6,372.4 L444.3,372.4 L446.1,372.4 L447.8,372.4 L449.6,372.4 L451.4,372.4 L453.1,372.4 L454.9,372.4 L456.6,372.4 L458.4,372.4 L460.2,372.4 L461.9,372.4 L463.7,372.4 L465.4,372.4 L467.2,372.4 L469.0,372.4 L470.7,372.4 L472.5,372.4 L474.2,372.4 L476.0,360.1 L477.7,372.4 L479.5,372.4 L481.3,372.4 L483.0,372.4 L484.8,372.4 L486.5,372.4 L488.3,372.4 L490.1,372.4 L491.8,372.4 L493.6,360.1 L495.3,372.4 L497.1,372.4 L498.8,372.4 L500.6,372.4 L502.4,360.1 L504.1,372.4 L505.9,372.4 L507.6,372.4 L509.4,372.4 L511.2,372.4 L512.9,372.4 L514.7,372.4 L516.4,360.1 L518.2,372.4 L520.0,372.4 L521.7,372.4 L523.5,372.4 L525.2,360.1 L527.0,360.1 L528.7,372.4 L530.5,372.4 L532.3,360.1 L534.0,372.4 L535.8,372.4 L537.5,372.4 L539.3,372.4 L541.1,372.4 L542.8,372.4 L544.6,360.1 L546.3,372.4" fill="none" stroke="#6a0d9b" stroke-width="1.9"/>

</g>
<!-- legend pager -->
<path d="M546.8 412.6l-3.6 4.6 3.6 4.6" fill="none" stroke="#dadce0" stroke-width="1.5"/>
<path d="M565.3 412.3l3.7 4.8-3.7 4.8" fill="none" stroke="#5f6368" stroke-width="1.5"/>
<!-- bar chart -->
<g id="barchart">
<line x1="723.5" x2="723.5" y1="121" y2="381.5" stroke="#dcdde0" stroke-width="1"/><text x="723.2" y="392.2" text-anchor="middle" class="ax">0</text><line x1="789.5" x2="789.5" y1="121" y2="381.5" stroke="#dfe0e3" stroke-width="1"/><text x="789.2" y="392.2" text-anchor="middle" class="ax" textLength="17.4" lengthAdjust="spacingAndGlyphs">200</text><line x1="856.5" x2="856.5" y1="121" y2="381.5" stroke="#dfe0e3" stroke-width="1"/><text x="856.2" y="392.2" text-anchor="middle" class="ax" textLength="17.4" lengthAdjust="spacingAndGlyphs">400</text><line x1="922.5" x2="922.5" y1="121" y2="381.5" stroke="#dfe0e3" stroke-width="1"/><text x="922.2" y="392.2" text-anchor="middle" class="ax" textLength="17.4" lengthAdjust="spacingAndGlyphs">600</text><rect x="723.0" y="142.9" width="174.8" height="39.7" fill="#1a73e8"/><line x1="717.3" x2="723" y1="163.2" y2="163.2" stroke="#dadce0" stroke-width="1"/><rect x="723.0" y="187.0" width="50.8" height="39.7" fill="#1a73e8"/><line x1="717.3" x2="723" y1="207.3" y2="207.3" stroke="#dadce0" stroke-width="1"/><rect x="723.0" y="231.2" width="38.0" height="39.7" fill="#1a73e8"/><line x1="717.3" x2="723" y1="251.5" y2="251.5" stroke="#dadce0" stroke-width="1"/><rect x="723.0" y="275.3" width="35.7" height="39.3" fill="#1a73e8"/><line x1="717.3" x2="723" y1="295.5" y2="295.5" stroke="#dadce0" stroke-width="1"/><rect x="723.0" y="319.0" width="35.0" height="39.2" fill="#1a73e8"/><line x1="717.3" x2="723" y1="339.1" y2="339.1" stroke="#dadce0" stroke-width="1"/>
<text x="633.1" y="161.2" class="bl" textLength="71.6" lengthAdjust="spacingAndGlyphs">Best Cleaning</text><text x="633.1" y="173.8" class="bl" textLength="75.4" lengthAdjust="spacingAndGlyphs">Services In D…</text><text x="633.1" y="205.3" class="bl" textLength="35.5" lengthAdjust="spacingAndGlyphs">Ensure</text><text x="633.1" y="217.9" class="bl" textLength="76.3" lengthAdjust="spacingAndGlyphs">Services Dub…</text><text x="633.1" y="249.5" class="bl" textLength="59.0" lengthAdjust="spacingAndGlyphs">Profesional</text><text x="633.1" y="262.1" class="bl" textLength="74.1" lengthAdjust="spacingAndGlyphs">Kitchen Duct…</text><text x="633.1" y="293.5" class="bl" textLength="74.8" lengthAdjust="spacingAndGlyphs">Reliable Water</text><text x="633.1" y="306.1" class="bl" textLength="75.4" lengthAdjust="spacingAndGlyphs">Tank Cleanin…</text><text x="633.1" y="337.1" class="bl" textLength="35.5" lengthAdjust="spacingAndGlyphs">Ensure</text><text x="633.1" y="349.7" class="bl" textLength="76.3" lengthAdjust="spacingAndGlyphs">Services Dub…</text>
</g>
</svg>
</body></html>
